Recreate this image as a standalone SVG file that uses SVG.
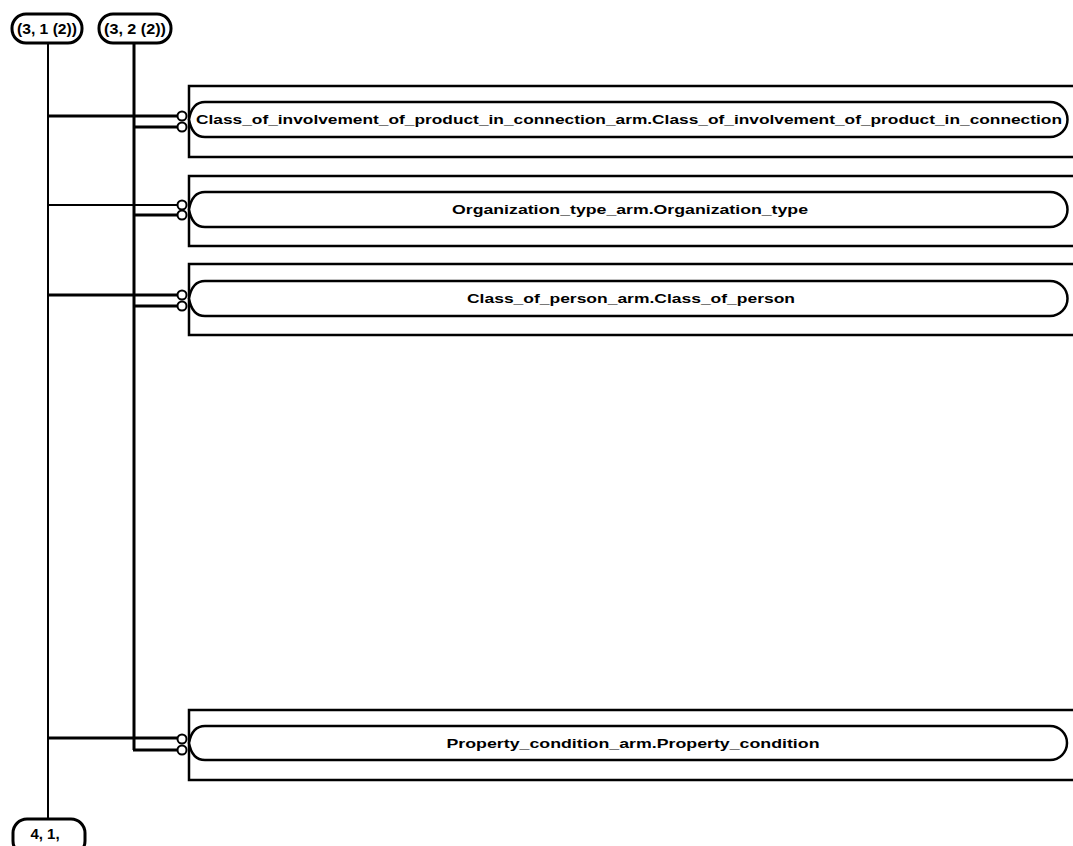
<svg xmlns="http://www.w3.org/2000/svg" width="1073" height="846" viewBox="0 0 1073 846">
<style>
.ln{stroke:#000;fill:none;stroke-width:2}
.thk{stroke:#000;fill:none;stroke-width:3}
.outer{stroke:#000;fill:none;stroke-width:2.5}
.inner{stroke:#000;fill:#fff;stroke-width:2.5}
.cir{stroke:#000;fill:#fff;stroke-width:2}
.pill{stroke:#000;fill:#fff;stroke-width:3}
.lbl{font-family:"Liberation Sans",Arial,sans-serif;font-weight:bold;font-size:13px;fill:#000}
.ref{font-family:"Liberation Sans",Arial,sans-serif;font-weight:bold;font-size:15px;fill:#000}
</style>
<rect width="1073" height="846" fill="#fff"/>
<g id="connectors">
<line class="ln" x1="48" y1="43" x2="48" y2="819"/>
<line class="thk" x1="134" y1="43" x2="134" y2="750"/>
<line class="thk" x1="48" y1="116" x2="177" y2="116"/>
<line class="thk" x1="134" y1="127" x2="177" y2="127"/>
<line class="ln" x1="48" y1="205" x2="177" y2="205"/>
<line class="thk" x1="134" y1="215" x2="177" y2="215"/>
<line class="thk" x1="48" y1="295" x2="177" y2="295"/>
<line class="thk" x1="134" y1="306" x2="177" y2="306"/>
<line class="thk" x1="48" y1="738" x2="177" y2="738"/>
<line class="thk" x1="133" y1="750" x2="177" y2="750"/>
</g>
<g id="ref_3_1">
<rect class="pill" x="12" y="14" width="70" height="29" rx="14"/>
<text class="ref" x="47" y="34" text-anchor="middle" textLength="60" lengthAdjust="spacingAndGlyphs">(3, 1 (2))</text>
</g>
<g id="ref_3_2">
<rect class="pill" x="99" y="14" width="72" height="29" rx="14"/>
<text class="ref" x="135" y="34" text-anchor="middle" textLength="62" lengthAdjust="spacingAndGlyphs">(3, 2 (2))</text>
</g>
<g id="ref_4_1">
<rect class="pill" x="13" y="819" width="72" height="36" rx="14"/>
<text class="ref" x="45" y="839" text-anchor="middle">4, 1,</text>
</g>
<g id="node1">
<path class="outer" d="M1075,86 H189 V157 H1075"/>
<path class="inner" d="M205,102 H1050 A17.5 17.5 0 0 1 1050,137 H205 Q192,137 189,119.5 Q192,102 205,102 Z"/>
<circle class="cir" cx="182" cy="116" r="4.5"/>
<circle class="cir" cx="182" cy="127" r="4.5"/>
<text class="lbl" x="629" y="124" text-anchor="middle" textLength="866" lengthAdjust="spacingAndGlyphs">Class_of_involvement_of_product_in_connection_arm.Class_of_involvement_of_product_in_connection</text>
</g>
<g id="node2">
<path class="outer" d="M1075,176 H189 V246 H1075"/>
<path class="inner" d="M205,192 H1050 A17.5 17.5 0 0 1 1050,227 H205 Q192,227 189,209.5 Q192,192 205,192 Z"/>
<circle class="cir" cx="182" cy="205" r="4.5"/>
<circle class="cir" cx="182" cy="215" r="4.5"/>
<text class="lbl" x="630" y="214" text-anchor="middle" textLength="356" lengthAdjust="spacingAndGlyphs">Organization_type_arm.Organization_type</text>
</g>
<g id="node3">
<path class="outer" d="M1075,264 H189 V335 H1075"/>
<path class="inner" d="M205,281 H1050 A17.5 17.5 0 0 1 1050,316 H205 Q192,316 189,298.5 Q192,281 205,281 Z"/>
<circle class="cir" cx="182" cy="295" r="4.5"/>
<circle class="cir" cx="182" cy="306" r="4.5"/>
<text class="lbl" x="631" y="303" text-anchor="middle" textLength="328" lengthAdjust="spacingAndGlyphs">Class_of_person_arm.Class_of_person</text>
</g>
<g id="node4">
<path class="outer" d="M1075,710 H189 V780 H1075"/>
<path class="inner" d="M205,726 H1050 A17 17 0 0 1 1050,760 H205 Q192,760 189,743 Q192,726 205,726 Z"/>
<circle class="cir" cx="182" cy="739" r="4.5"/>
<circle class="cir" cx="182" cy="750" r="4.5"/>
<text class="lbl" x="633" y="748" text-anchor="middle" textLength="373" lengthAdjust="spacingAndGlyphs">Property_condition_arm.Property_condition</text>
</g>
</svg>
